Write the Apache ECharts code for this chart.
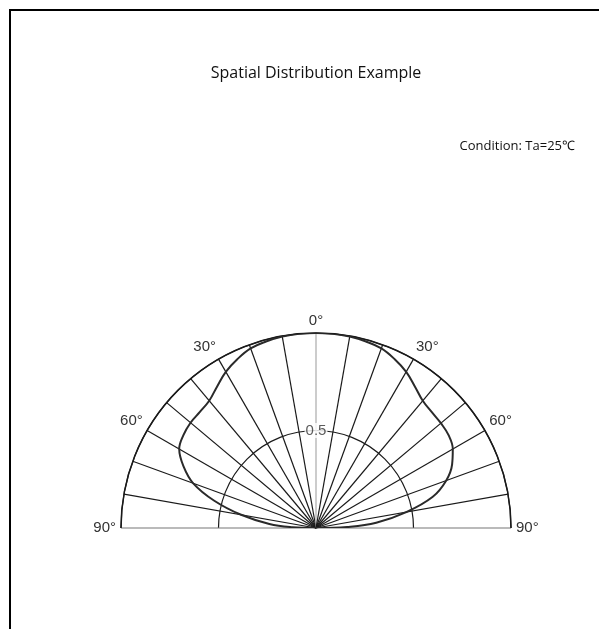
<!DOCTYPE html>
<html>
<head>
<meta charset="utf-8">
<script src="https://cdn.jsdelivr.net/npm/echarts@6/dist/echarts.min.js"></script>
<style>
html,body{margin:0;padding:0;background:#fff;}
#chart{width:599px;height:629px;}
</style>
</head>
<body>
<div id="chart"></div>
<script>
const titleText = 'Spatial Distribution Example';
const conditionText = 'Condition: Ta=25\u2103';
const angleDeg = [-90,-88,-85,-80,-75,-70,-65,-60,-55,-50,-45,-40,-35,-30,-25,-20,-15,-10,-5,0,5,10,15,20,25,30,35,40,45,50,55,60,65,70,75,80,85,88,90];
const relIntensity = [0,0.12,0.24,0.39,0.54,0.67,0.75,0.81,0.83,0.84,0.842,0.852,0.885,0.925,0.955,0.98,0.99,0.997,1,1,1,0.997,0.99,0.98,0.955,0.925,0.885,0.852,0.84,0.836,0.83,0.81,0.77,0.71,0.62,0.47,0.31,0.16,0];
const angleLabels = [-90,-60,-30,0,30,60,90];
const radiusLabels = [0.5];

const spokeColors = [];
for (let a = -90; a <= 90; a += 10) spokeColors.push(a === 0 ? '#aaaaaa' : (Math.abs(a) === 90 ? '#777777' : '#1a1a1a'));

const chart = echarts.init(document.getElementById('chart'));
chart.setOption({
  backgroundColor: '#ffffff',
  animation: false,
  polar: { center: [316, 528], radius: 195 },
  angleAxis: {
    type: 'value', min: -90, max: 90, interval: 10,
    startAngle: 180, endAngle: 0, clockwise: true,
    axisLine: { show: true, lineStyle: { color: '#1a1a1a', width: 1.5 } },
    axisTick: { show: false },
    splitLine: { show: true, lineStyle: { color: spokeColors, width: 1.2 } },
    axisLabel: {
      show: true, margin: 5,
      fontFamily: 'Liberation Sans', fontSize: 15, color: '#333',
      formatter: v => angleLabels.indexOf(v) >= 0 ? Math.abs(v) + '\u00B0' : ''
    }
  },
  radiusAxis: {
    type: 'value', min: 0, max: 1, interval: 0.5,
    axisLine: { show: false }, axisTick: { show: false }, axisLabel: { show: false },
    splitLine: { show: true, lineStyle: { color: '#1a1a1a', width: 1.2 } }
  },
  series: [
    {
      type: 'line', coordinateSystem: 'polar', smooth: 0.4, symbol: 'none',
      data: angleDeg.map((a, i) => [relIntensity[i], a]),
      lineStyle: { color: '#2a2a2a', width: 2 },
      z: 5
    },
    {
      type: 'scatter', coordinateSystem: 'polar', symbolSize: 0,
      data: radiusLabels.map(r => [r, 0]),
      label: {
        show: true, position: 'inside', formatter: p => String(p.value[0]),
        fontFamily: 'Liberation Sans', fontSize: 15, color: '#333',
        backgroundColor: '#fff', padding: [0, 1]
      },
      z: 6
    }
  ],
  graphic: [
    { type: 'rect', shape: { x: 10, y: 10, width: 800, height: 800 },
      style: { fill: 'none', stroke: '#000', lineWidth: 2 }, silent: true },
    { type: 'text', x: 316, y: 73,
      style: { text: titleText, font: '16px "Open Sans"', fill: '#111', textAlign: 'center', textVerticalAlign: 'middle' } },
    { type: 'text', x: 575, y: 146,
      style: { text: conditionText, font: '13px "Open Sans"', fill: '#111', textAlign: 'right', textVerticalAlign: 'middle' } }
  ]
});
</script>
</body>
</html>
